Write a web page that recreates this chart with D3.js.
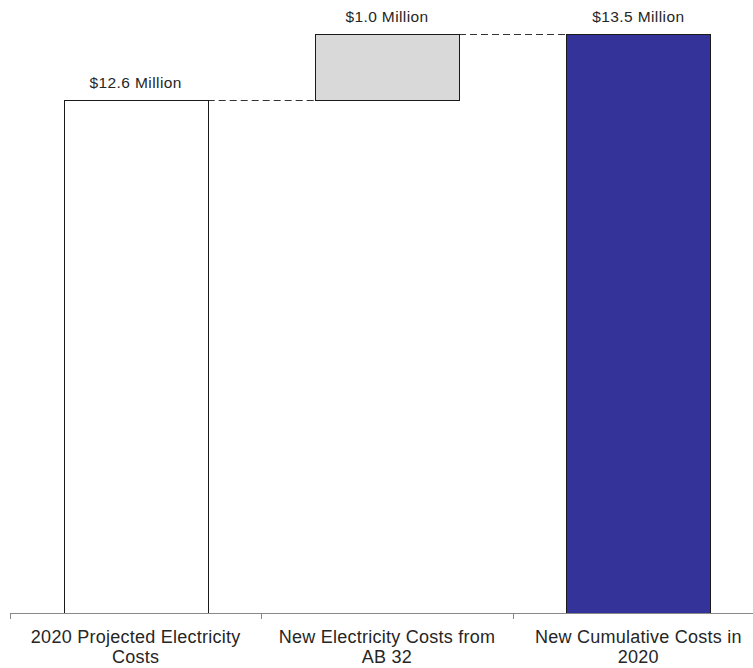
<!DOCTYPE html>
<html><head><meta charset="utf-8">
<script src="https://cdn.jsdelivr.net/npm/d3@7"></script>
<style>body{margin:0;background:#fff;}svg{display:block;font-family:"Liberation Sans",Arial,sans-serif;}</style>
</head><body>
<svg id="c" width="753" height="668"></svg>
<script>
const categories = ["2020 Projected Electricity Costs", "New Electricity Costs from AB 32", "New Cumulative Costs in 2020"];
const starts = [0, 12.6, 0];
const ends = [12.6, 13.5, 13.5];
const valueLabels = ["$12.6 Million", "$1.0 Million", "$13.5 Million"];
const fills = ["#ffffff", "#d9d9d9", "#333399"];
const yMin = 5.6, yMax = 13.5;

const svg = d3.select("#c");
const x = d3.scaleBand().domain(categories).range([10, 764]).paddingInner(0).paddingOuter(0);
const y = d3.scaleLinear().domain([yMin, yMax]).range([613, 34]);
const barW = x.bandwidth() * 0.573;
const cx = d => x(d) + x.bandwidth() / 2;

// connectors
for (let i = 0; i < categories.length - 1; i++) {
  svg.append("line")
    .attr("x1", cx(categories[i]) + barW / 2).attr("x2", cx(categories[i + 1]) - barW / 2)
    .attr("y1", Math.round(y(ends[i])) + 0.5).attr("y2", Math.round(y(ends[i])) + 0.5)
    .attr("stroke", "#333").attr("stroke-width", 1.2).attr("stroke-dasharray", "7,4");
}

svg.selectAll("rect.bar").data(categories).join("rect")
  .attr("class", "bar")
  .attr("x", d => Math.round(cx(d) - barW / 2) + 0.5)
  .attr("width", Math.round(barW))
  .attr("y", (d, i) => Math.round(y(ends[i])) + 0.5)
  .attr("height", (d, i) => Math.round(y(Math.max(starts[i], yMin))) - Math.round(y(ends[i])))
  .attr("fill", (d, i) => fills[i])
  .attr("stroke", "#1a1a1a").attr("stroke-width", 1);

svg.selectAll("text.vl").data(categories).join("text")
  .attr("class", "vl")
  .attr("x", d => cx(d))
  .attr("y", (d, i) => y(ends[i]) - 12)
  .attr("text-anchor", "middle").attr("font-size", 15.5).attr("letter-spacing", 0.4).attr("fill", "#262626")
  .text((d, i) => valueLabels[i]);

// axis
const ax = svg.append("g").attr("transform", "translate(0,613)")
  .call(d3.axisBottom(x).tickSize(0).tickFormat(""));
ax.select(".domain").attr("stroke", "#888").attr("d", "M10,0.5H753");
const tickXs = [10, 10 + x.bandwidth(), 10 + 2 * x.bandwidth()];
ax.selectAll("line.tk").data(tickXs).join("line").attr("class", "tk")
  .attr("x1", d => Math.round(d) + 0.5).attr("x2", d => Math.round(d) + 0.5)
  .attr("y1", 0).attr("y2", 6).attr("stroke", "#888");

function wrapLines(text, maxW, size) {
  const ctx = document.createElement("canvas").getContext("2d");
  ctx.font = size + "px 'Liberation Sans', Arial";
  const words = text.split(" ");
  const lines = []; let cur = "";
  words.forEach(w => {
    const t = cur ? cur + " " + w : w;
    if (ctx.measureText(t).width > maxW && cur) { lines.push(cur); cur = w; } else cur = t;
  });
  lines.push(cur);
  return lines;
}
categories.forEach(c => {
  const lines = wrapLines(c, 225, 18);
  const t = svg.append("text").attr("text-anchor", "middle").attr("font-size", 18).attr("letter-spacing", 0.25).attr("fill", "#262626");
  lines.forEach((l, i) => t.append("tspan").attr("x", cx(c)).attr("y", 643 + i * 20).text(l));
});
</script>
</body></html>
